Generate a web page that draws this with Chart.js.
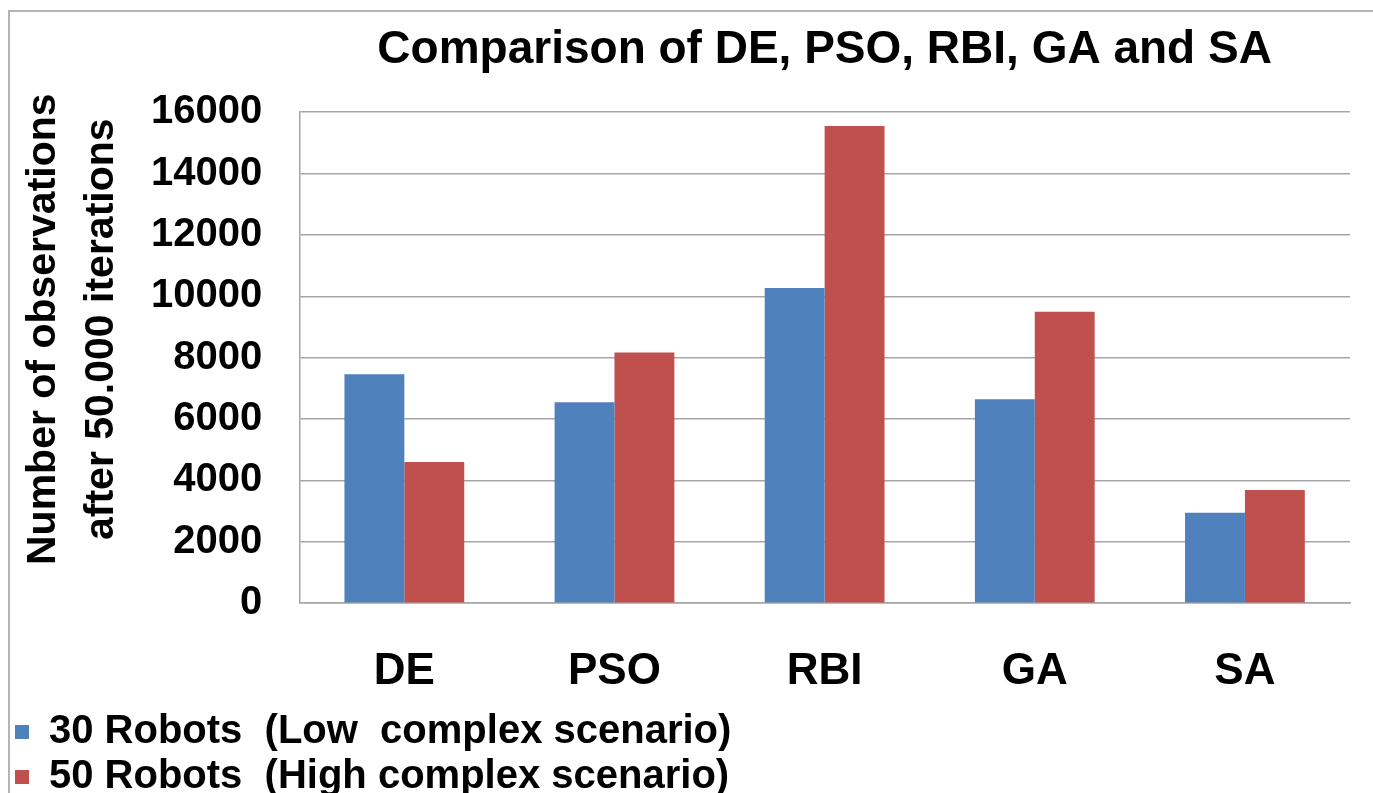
<!DOCTYPE html>
<html>
<head>
<meta charset="utf-8">
<script src="https://cdn.jsdelivr.net/npm/chart.js@4"></script>
<style>
  html, body { margin: 0; padding: 0; background: #ffffff; overflow: hidden; }
  #frame {
    position: absolute; left: 8px; top: 10px;
    width: 1420px; height: 840px;
    border: 2px solid #b4b4b4; box-sizing: border-box;
  }
  #chart { position: absolute; left: 0; top: 0; }
</style>
</head>
<body>
<div id="frame"></div>
<canvas id="chart" width="1373" height="807"></canvas>
<script>
// Algorithms compared
const categories = ['DE', 'PSO', 'RBI', 'GA', 'SA'];

// Number of observations after 50.000 iterations
const robots30 = [7460, 6550, 10270, 6650, 2950];
const robots50 = [4600, 8170, 15550, 9500, 3690];

const seriesNames = [
  '30 Robots  (Low  complex scenario)',
  '50 Robots  (High complex scenario)'
];

const chartTitle = 'Comparison of DE, PSO, RBI, GA and SA';
const yAxisTitle = ['     Number of observations', '     after 50.000 iterations'];
const yTickValues = [0, 2000, 4000, 6000, 8000, 10000, 12000, 14000, 16000];

const FONT = '"Liberation Sans", Arial, sans-serif';
const GRID = '#a6a6a6';

new Chart(document.getElementById('chart'), {
  type: 'bar',
  data: {
    labels: categories,
    datasets: [
      { label: seriesNames[0], data: robots30, backgroundColor: '#4F81BD' },
      { label: seriesNames[1], data: robots50, backgroundColor: '#C0504D' }
    ]
  },
  options: {
    responsive: false,
    devicePixelRatio: 1,
    animation: false,
    layout: { padding: { left: 10, right: 23, top: 0, bottom: 0 } },
    datasets: {
      bar: { categoryPercentage: 0.57, barPercentage: 1.0, borderWidth: 0 }
    },
    plugins: {
      title: {
        display: true,
        text: chartTitle,
        fullSize: false,
        color: '#000000',
        font: { family: FONT, size: 46, weight: 'bold', lineHeight: 1.2 },
        padding: { top: 23, bottom: 34 }
      },
      legend: {
        position: 'bottom',
        align: 'start',
        labels: {
          color: '#000000',
          font: { family: FONT, size: 40, weight: 'bold' },
          boxWidth: 14,
          boxHeight: 14,
          padding: 5
        }
      },
      tooltip: { enabled: false }
    },
    scales: {
      x: {
        grid: {
          display: true,
          drawOnChartArea: false,
          drawTicks: true,
          tickLength: 33,
          color: 'transparent',
          tickColor: 'transparent'
        },
        border: { display: true, color: GRID, width: 1.5 },
        ticks: {
          color: '#000000',
          padding: 9,
          font: { family: FONT, size: 44, weight: 'bold', lineHeight: 1.2 }
        }
      },
      y: {
        min: 0,
        max: 16000,
        afterBuildTicks: (scale) => {
          scale.ticks = yTickValues.map(v => ({ value: v }));
        },
        grid: {
          color: GRID,
          lineWidth: 1.5,
          drawTicks: true,
          tickLength: 17,
          tickColor: 'transparent'
        },
        border: { display: true, color: GRID, width: 1.5 },
        ticks: {
          color: '#000000',
          padding: 20,
          font: { family: FONT, size: 40, weight: 'bold' },
          callback: (v) => String(v)
        },
        title: {
          display: true,
          text: yAxisTitle,
          color: '#000000',
          font: { family: FONT, size: 41, weight: 'bold', lineHeight: 1.415 },
          padding: { top: 5, bottom: 0 }
        }
      }
    }
  }
});
</script>
</body>
</html>
